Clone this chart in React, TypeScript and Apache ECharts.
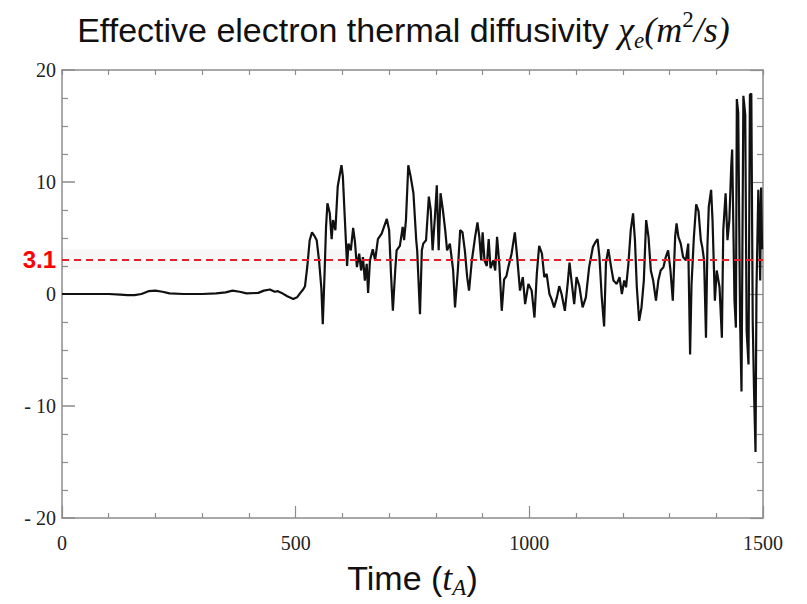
import React, { useEffect, useRef } from "react";
import * as echarts from "echarts";

const timeValues: number[] = [
  0, 20, 60, 100, 125, 140, 155, 170, 185, 200, 215, 230, 260, 300, 330, 350, 365, 380, 395, 420,
  432, 445, 455, 462, 470, 482, 495, 503, 510, 516, 520, 525, 530, 535, 540, 545, 550, 555, 558, 562,
  565, 568, 573, 577, 580, 585, 590, 598, 601, 605, 610, 613, 618, 623, 627, 631, 636, 640, 644, 648,
  652, 655, 659, 665, 670, 676, 684, 695, 700, 704, 708, 713, 716, 723, 729, 732, 736, 741, 746, 752,
  758, 760, 766, 770, 773, 779, 785, 789, 793, 798, 802, 806, 810, 815, 820, 824, 830, 837, 841, 847,
  852, 857, 862, 867, 871, 877, 884, 889, 893, 897, 900, 904, 909, 913, 917, 923, 927, 931, 936, 941,
  946, 951, 955, 962, 969, 974, 980, 986, 991, 998, 1005, 1011, 1016, 1021, 1027, 1032, 1037, 1043, 1048, 1053,
  1059, 1064, 1069, 1076, 1082, 1086, 1091, 1096, 1101, 1107, 1114, 1121, 1128, 1136, 1141, 1146, 1150, 1155, 1160, 1164,
  1169, 1175, 1180, 1187, 1193, 1198, 1203, 1207, 1212, 1217, 1222, 1226, 1230, 1235, 1240, 1245, 1250, 1255, 1260, 1265,
  1271, 1276, 1281, 1287, 1292, 1297, 1302, 1307, 1312, 1315, 1319, 1324, 1329, 1335, 1340, 1344, 1347, 1352, 1357, 1362,
  1367, 1370, 1374, 1378, 1381, 1384, 1389, 1392, 1397, 1401, 1407, 1412, 1415, 1420, 1424, 1428, 1432, 1434, 1439, 1442,
  1444, 1447, 1451, 1454, 1458, 1462, 1465, 1469, 1472, 1475, 1478, 1481, 1484, 1486, 1490, 1492, 1494, 1496, 1498
];

const chiValues: number[] = [
  0, 0, 0, 0, -0.05, -0.1, -0.1, 0.0, 0.25, 0.3, 0.2, 0.05, 0.0, 0.0, 0.05, 0.15, 0.3, 0.2, 0.05, 0.1,
  0.3, 0.4, 0.2, 0.25, 0.1, -0.2, -0.45, -0.3, 0.1, 0.4, 0.7, 2.5, 4.8, 5.5, 5.2, 4.8, 3.0, 0.5, -2.7, 2.0,
  6.0, 8.1, 7.2, 4.9, 6.6, 5.7, 9.6, 11.5, 10.5, 6.9, 2.5, 4.5, 3.9, 5.9, 4.6, 2.4, 3.6, 2.1, 3.3, 1.2,
  2.7, 0.1, 3.0, 4.0, 3.0, 4.9, 5.4, 6.7, 5.7, 1.8, -1.5, 2.1, 3.9, 4.3, 6.0, 4.8, 6.6, 11.5, 10.5, 9.0,
  4.8, 3.9, -1.8, 3.9, 4.5, 4.8, 8.7, 7.5, 3.9, 6.9, 9.7, 3.9, 9.0, 7.5, 5.7, 3.9, 4.5, 2.1, -1.2, 2.1,
  5.7, 5.5, 3.9, 1.5, 0.3, 3.0, 5.1, 6.4, 5.1, 3.0, 5.5, 3.0, 2.5, 4.9, 2.3, 3.0, 2.1, 5.1, 2.5, -1.5,
  1.3, 1.6, 2.4, 3.6, 5.5, 3.3, 0.3, 1.5, -0.9, 0.9, 0.3, -2.1, 1.8, 4.3, 3.6, 1.5, 1.8, 0.0, -0.5, -1.2,
  -0.3, 0.7, 0.0, -1.5, 0.9, 2.8, 0.9, -0.9, 1.5, 0.7, -1.2, -0.3, 2.4, 4.2, 4.6, 4.9, 3.3, -0.3, -2.9, 2.8,
  4.0, 2.4, 1.2, 0.9, 1.5, 0.0, 1.2, 0.6, 2.7, 5.7, 7.2, 4.8, 0.6, -2.4, -1.2, 1.2, 6.6, 5.1, 2.1, 1.2,
  -0.6, 1.2, 2.1, 2.4, 3.3, 3.9, 2.1, -0.6, 5.1, 6.3, 5.1, 4.5, 3.3, 3.0, 4.5, -5.4, 0.8, 5.0, 8.0, 7.4,
  4.8, 4.2, 3.0, -3.9, 4.2, 7.8, 9.3, 6.6, -0.6, 2.1, 0.6, -3.9, 5.7, 9.0, 4.8, 6.6, 11.4, 12.9, -0.6, -3.0,
  17.4, 16.2, -2.4, -8.7, 17.7, 16.0, -3.3, -6.3, 17.8, 17.9, -2.4, -9.0, -14.1, 0.3, 9.3, 6.6, 1.2, 9.5, 4.0
];

const yTickLabels: Record<string, string> = { "20": "20", "10": "10", "0": "0", "-10": "- 10", "-20": "- 20" };
const refValue = 3.1;
const refLabel = "3.1";

const axisGray = "#8c8c8c";
const serif = "'Liberation Serif', 'Times New Roman', serif";
const sans = "'Liberation Sans', Arial, sans-serif";

export default function App() {
  const ref = useRef<HTMLDivElement>(null);
  useEffect(() => {
    document.body.style.margin = "0";
    if (!ref.current) return;
    const chart = echarts.init(ref.current, null, { renderer: "svg" });
    const data = timeValues.map((t, i) => [t, chiValues[i]]);
    const lineCommon = { show: true, onZero: false, lineStyle: { color: axisGray, width: 1.5 } };
    chart.setOption({
      animation: false,
      backgroundColor: "#fff",
      title: {
        text: "{a|Effective electron thermal diffusivity }{m|χ}{sub|e}{m|(m}{sup|2}{m|/s)}",
        left: "center",
        top: 3,
        textStyle: {
          fontWeight: "normal",
          rich: {
            a: { fontFamily: sans, fontWeight: "normal", fontSize: 34, color: "#111", lineHeight: 44 },
            m: { fontFamily: serif, fontWeight: "normal", fontStyle: "italic", fontSize: 36, color: "#111", lineHeight: 44 },
            sub: { fontFamily: serif, fontWeight: "normal", fontStyle: "italic", fontSize: 23, color: "#111", lineHeight: 44, verticalAlign: "bottom", padding: [14, 0, 0, 0] },
            sup: { fontFamily: serif, fontWeight: "normal", fontSize: 23, color: "#111", lineHeight: 44, verticalAlign: "top", padding: [0, 0, 13, 0] },
          },
        },
      },
      grid: { left: 62, right: 44, top: 70, bottom: 85, containLabel: false },
      xAxis: [
        {
          type: "value",
          min: 0,
          max: 1500,
          interval: 500,
          position: "bottom",
          axisLine: lineCommon,
          splitLine: { show: false },
          axisTick: { show: true, inside: true, length: 12, lineStyle: { color: axisGray, width: 1.2 } },
          minorTick: { show: true, splitNumber: 5, length: 5, lineStyle: { color: axisGray, width: 1.2 } },
          axisLabel: { fontFamily: serif, fontSize: 20, color: "#222", margin: 15, formatter: (v: number) => String(v) },
          name: "{a|Time (}{m|t}{sub|A}{a|)}",
          nameLocation: "middle",
          nameGap: 39,
          nameTextStyle: {
            rich: {
              a: { fontFamily: sans, fontSize: 34, color: "#111", lineHeight: 42 },
              m: { fontFamily: serif, fontStyle: "italic", fontSize: 36, color: "#111", lineHeight: 42 },
              sub: { fontFamily: serif, fontStyle: "italic", fontSize: 23, color: "#111", lineHeight: 42, verticalAlign: "bottom", padding: [14, 0, 0, 0] },
            },
          },
        },
        {
          type: "value",
          min: 0,
          max: 1500,
          interval: 500,
          position: "top",
          axisLine: lineCommon,
          splitLine: { show: false },
          axisTick: { show: true, inside: true, length: 5, lineStyle: { color: axisGray, width: 1.2 } },
          minorTick: { show: true, splitNumber: 5, length: 5, lineStyle: { color: axisGray, width: 1.2 } },
          axisLabel: { show: false },
        },
      ],
      yAxis: [
        {
          type: "value",
          min: -20,
          max: 20,
          interval: 10,
          position: "left",
          axisLine: lineCommon,
          splitLine: { show: false },
          axisTick: { show: true, inside: true, length: 13, lineStyle: { color: axisGray, width: 1.5 } },
          minorTick: { show: true, splitNumber: 4, length: 6, lineStyle: { color: axisGray, width: 1.2 } },
          axisLabel: {
            fontFamily: serif,
            fontSize: 20,
            color: "#222",
            margin: 6,
            formatter: (v: number) => yTickLabels[String(v)] ?? String(v),
          },
        },
        {
          type: "value",
          min: -20,
          max: 20,
          interval: 10,
          position: "right",
          axisLine: lineCommon,
          splitLine: { show: false },
          axisTick: { show: true, inside: true, length: 13, lineStyle: { color: axisGray, width: 1.2 } },
          minorTick: { show: true, splitNumber: 4, length: 6, lineStyle: { color: axisGray, width: 1.2 } },
          axisLabel: { show: false },
        },
      ],
      series: [
        {
          type: "line",
          xAxisIndex: 0,
          yAxisIndex: 0,
          data,
          showSymbol: false,
          symbol: "none",
          lineStyle: { color: "#111", width: 2.2 },
          z: 3,
          markArea: {
            silent: true,
            itemStyle: { color: "rgba(0,0,0,0.03)" },
            data: [[{ yAxis: 2.2 }, { yAxis: 4.0 }]],
          },
          markLine: {
            silent: true,
            symbol: "none",
            z: 4,
            lineStyle: { color: "#e0202a", width: 2, type: [7, 5] },
            label: {
              show: true,
              position: "start",
              formatter: refLabel,
              color: "#ff0000",
              fontWeight: "bold",
              fontFamily: sans,
              fontSize: 24,
              distance: 6,
            },
            data: [{ yAxis: refValue }],
          },
        },
      ],
    });
    return () => chart.dispose();
  }, []);
  return <div ref={ref} style={{ width: 807, height: 604 }} />;
}
